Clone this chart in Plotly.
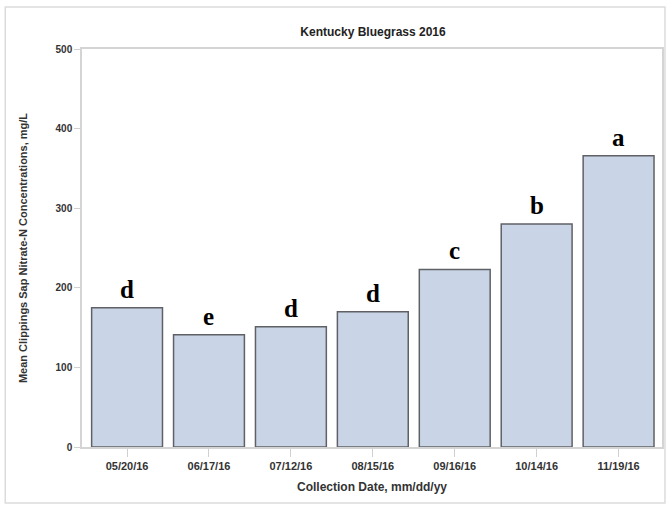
import plotly.graph_objects as go

dates = ["05/20/16", "06/17/16", "07/12/16", "08/15/16", "09/16/16", "10/14/16", "11/19/16"]
values = [175, 141, 151, 170, 223, 280, 366]
letters = ["d", "e", "d", "d", "c", "b", "a"]
yticks = [0, 100, 200, 300, 400, 500]

W, H = 670, 508
L, R, T, B = 82, 6, 49, 61
pw, ph = W - L - R, H - T - B

fig = go.Figure()
fig.add_trace(go.Bar(
    x=list(range(len(dates))), y=values, width=0.865,
    marker=dict(color="#c9d5e6", line=dict(color="#5f6166", width=1.5)),
    hoverinfo="skip",
))

for i, (v, s) in enumerate(zip(values, letters)):
    fig.add_annotation(x=i, y=v, text="<b>%s</b>" % s, showarrow=False,
                       yanchor="bottom", yshift=3,
                       font=dict(family="Liberation Serif", size=25, color="#000"))

fig.update_layout(
    width=W, height=H,
    margin=dict(l=L, r=R, t=T, b=B),
    paper_bgcolor="white", plot_bgcolor="white",
    showlegend=False,
    title=dict(text="<b>Kentucky Bluegrass 2016</b>", x=(L + pw / 2) / W, xanchor="center",
               y=1 - 32 / H, yanchor="middle",
               font=dict(family="Liberation Sans", size=12, color="#222")),
    xaxis=dict(
        range=[-0.55, 6.53], tickvals=list(range(len(dates))),
        ticktext=["<b>%s</b>" % d for d in dates],
        showgrid=False, zeroline=False, showline=True, linecolor="#d4d4d4", linewidth=1.5,
        mirror=True, ticks="outside", ticklen=8, tickcolor="#d0d0d0",
        tickfont=dict(family="Liberation Sans", size=11, color="#333"),
        title=dict(text="<b>Collection Date, mm/dd/yy</b>", standoff=12,
                   font=dict(family="Liberation Sans", size=12, color="#333")),
    ),
    yaxis=dict(
        range=[0, 500], tickvals=yticks, ticktext=["<b>%d</b>" % t for t in yticks],
        showgrid=False, zeroline=False, showline=True, linecolor="#d4d4d4", linewidth=1.5,
        mirror=True, ticks="outside", ticklen=6, tickcolor="#d0d0d0",
        tickfont=dict(family="Liberation Sans", size=10, color="#333"),
        title=dict(text="<b>Mean Clippings Sap Nitrate-N Concentrations, mg/L</b>", standoff=26,
                   font=dict(family="Liberation Sans", size=11, color="#333")),
    ),
)

# outer light border of the picture
fig.add_shape(type="rect", xref="paper", yref="paper",
              x0=(5 - L) / pw, x1=(667 - L) / pw,
              y0=-(503 - T - ph) / ph, y1=1 + (T - 7) / ph,
              line=dict(color="#dcdcdc", width=1.5), fillcolor="rgba(0,0,0,0)", layer="below")

fig.write_html("out.html")
